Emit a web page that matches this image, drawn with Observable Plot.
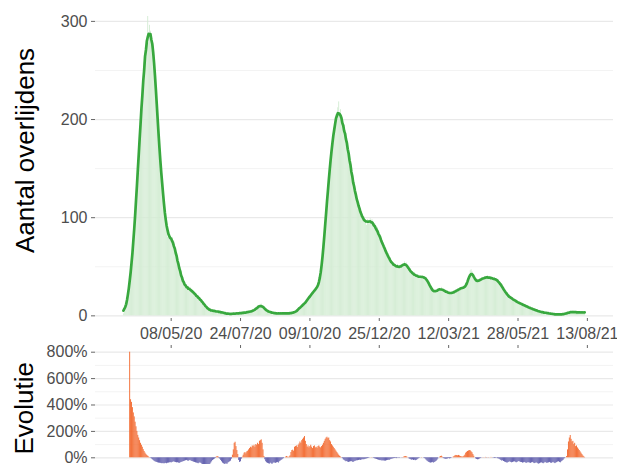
<!DOCTYPE html>
<html>
<head>
<meta charset="utf-8">
<script src="https://cdn.jsdelivr.net/npm/d3@7"></script>
<script src="https://cdn.jsdelivr.net/npm/@observablehq/plot@0.6"></script>
<style>
  html, body { margin: 0; padding: 0; background: #ffffff; overflow: hidden; width: 617px; height: 464px; }
  svg { display: block; }
</style>
</head>
<body>
<div id="chart"></div>
<script>
// ---- Daily deaths (Aantal overlijdens) ----
const deathsStart = "2020-03-16";
const d2003 = [2, 4, 5, 10, 14, 19, 28, 33, 44, 50, 64, 71, 87, 98, 120, 131];
const d2004 = [145, 172, 176, 201, 205, 232, 236, 258, 262, 281, 276, 305, 278, 296, 290, 285, 280, 275, 265, 250, 235, 215, 195, 180, 170, 158, 145, 135, 122, 112];
const d2005 = [104, 95, 88, 80, 84, 78, 82, 76, 80, 74, 76, 68, 65, 58, 60, 49, 52, 41, 45, 35, 37, 30, 34, 28, 31, 27, 30, 25, 29, 24, 27];
const d2006 = [25, 22, 24, 20, 22, 18, 20, 17, 18, 15, 16, 12, 14, 10, 11, 8, 9, 6, 7, 5, 6, 5, 6, 4, 5, 6, 4, 5, 3, 4];
const d2007 = [4, 5, 3, 4, 2, 3, 3, 2, 3, 2, 1, 2, 3, 2, 1, 2, 3, 2, 3, 2, 3, 2, 3, 2, 3, 4, 2, 3, 4, 3, 4];
const d2008 = [4, 3, 5, 4, 5, 4, 6, 5, 6, 8, 7, 9, 10, 9, 11, 12, 10, 9, 8, 7, 6, 5, 5, 4, 4, 4, 3, 4, 3, 3, 2];
const d2009 = [3, 2, 3, 2, 3, 2, 3, 2, 3, 2, 3, 3, 2, 3, 2, 3, 2, 3, 3, 3, 4, 3, 4, 5, 5, 6, 7, 9, 10, 11];
const d2010 = [10, 11, 12, 14, 15, 16, 17, 19, 20, 21, 23, 22, 25, 26, 27, 28, 29, 30, 32, 34, 40, 48, 58, 68, 82, 92, 106, 116, 130, 138, 152];
const d2011 = [158, 170, 178, 186, 192, 196, 205, 200, 212, 218, 204, 210, 195, 200, 190, 194, 182, 186, 172, 176, 160, 164, 148, 152, 138, 140, 126, 130, 118, 122];
const d2012 = [116, 112, 108, 105, 104, 99, 98, 101, 94, 97, 92, 98, 94, 97, 99, 95, 98, 93, 91, 94, 88, 86, 90, 84, 81, 80, 76, 77, 72, 70, 68];
const d2101 = [66, 65, 62, 60, 58, 57, 54, 55, 52, 50, 53, 51, 49, 52, 50, 48, 51, 49, 50, 52, 53, 55, 52, 54, 51, 49, 47, 46, 45, 44, 43];
const d2102 = [42, 44, 40, 41, 39, 42, 38, 41, 40, 38, 41, 39, 40, 38, 39, 37, 35, 33, 31, 29, 27, 25, 26, 23, 24, 25, 26, 27];
const d2103 = [26, 28, 27, 29, 26, 25, 27, 24, 26, 23, 25, 22, 24, 23, 22, 24, 23, 25, 24, 26, 25, 27, 26, 28, 27, 29, 28, 30, 29, 28, 30];
const d2104 = [30, 33, 37, 42, 46, 47, 45, 42, 39, 36, 35, 34, 36, 35, 36, 37, 38, 36, 39, 38, 40, 38, 39, 41, 38, 40, 39, 37, 38, 39];
const d2105 = [37, 39, 36, 38, 35, 37, 34, 33, 31, 30, 29, 28, 26, 24, 22, 21, 20, 21, 19, 18, 17, 18, 16, 17, 15, 14, 15, 13, 14, 12, 13];
const d2106 = [12, 11, 12, 10, 11, 9, 10, 9, 8, 9, 7, 8, 7, 6, 7, 6, 5, 6, 5, 4, 5, 4, 4, 3, 4, 3, 4, 3, 2, 3];
const d2107 = [3, 2, 3, 2, 2, 1, 2, 2, 1, 2, 1, 2, 1, 2, 1, 2, 2, 1, 2, 3, 2, 3, 4, 3, 4, 3, 4, 5, 4, 3, 4];
const d2108 = [4, 3, 4, 3, 4, 3, 4, 3, 4, 3];

// ---- Daily evolution in % (Evolutie) ----
const evolStart = "2020-03-23";
const e2003 = [800, 440, 420, 380, 340, 310, 270, 235, 200];
const e2004 = [170, 150, 130, 110, 95, 80, 62, 48, 36, 26, 18, 12, 6, 2, -3, -8, -14, -20, -26, -30, -33, -35, -38, -40, -41, -42, -44, -45, -43, -46];
const e2005 = [-44, -42, -45, -41, -40, -38, -36, -39, -35, -33, -30, -34, -36, -38, -37, -40, -42, -38, -35, -33, -30, -28, -25, -22, -20, -24, -26, -22, -20, -25, -28];
const e2006 = [-30, -33, -35, -38, -40, -42, -45, -40, -38, -42, -48, -52, -55, -58, -56, -60, -62, -58, -55, -50, -40, -30, -20, -15, -10, -5, 5, 10, 8, -5];
const e2007 = [-10, -20, -30, -40, -45, -50, -48, -45, -50, -40, -35, -30, -25, -10, 20, 60, 110, 118, 85, 55, 25, -20, -35, -30, -10, 5, 20, 35, 40, 30, 45];
const e2008 = [50, 60, 70, 80, 75, 90, 85, 95, 80, 100, 95, 110, 100, 125, 130, 136, 110, 60, 10, -15, -30, -38, -42, -45, -48, -40, -45, -50, -42, -38, -40];
const e2009 = [-42, -38, -35, -40, -30, -25, -20, -15, -10, -5, 0, 5, 10, 6, 2, 8, 15, 40, 55, 58, 50, 80, 85, 90, 78, 95, 105, 120, 110, 130];
const e2010 = [140, 150, 161, 125, 100, 80, 90, 75, 85, 95, 80, 70, 85, 90, 75, 80, 72, 85, 90, 80, 75, 85, 95, 110, 125, 140, 150, 156, 145, 150, 130];
const e2011 = [120, 100, 90, 80, 70, 60, 50, 40, 30, 20, 12, 6, 2, -5, -15, -20, -25, -30, -28, -33, -35, -32, -30, -28, -33, -35, -30, -27, -25, -22];
const e2012 = [-22, -20, -18, -20, -17, -15, -14, -15, -12, -10, -8, -6, -4, -2, 0, 2, 1, -2, -5, -8, -10, -12, -15, -18, -20, -22, -20, -25, -22, -24, -25];
const e2101 = [-25, -22, -20, -18, -20, -15, -12, -10, -8, -6, -5, -4, -6, -3, -2, -4, -2, 0, -2, 2, 5, 8, 10, 8, 4, 0, -8, -12, -15, -18, -16];
const e2102 = [-20, -18, -22, -20, -15, -10, -5, -2, 0, 2, 0, -2, -5, -10, -18, -25, -30, -35, -38, -40, -38, -35, -40, -36, -32, -28, -20, -10];
const e2103 = [0, 5, 10, 12, 5, -5, -8, -10, -12, -10, -8, -5, -8, -6, -3, 0, 5, 10, 15, 18, 17, 15, 18, 14, 10, 8, 5, 8, 12, 20, 35];
const e2104 = [42, 48, 52, 55, 53, 45, 38, 25, 12, 0, -8, -12, -15, -14, -10, -6, -3, 0, 2, -1, 1, 3, -2, 1, 2, -1, 0, 3, 1, -2];
const e2105 = [-3, -5, -4, -2, -6, -8, -10, -15, -20, -25, -22, -28, -32, -35, -38, -40, -36, -33, -30, -35, -38, -35, -32, -30, -34, -38, -35, -30, -28, -32, -35];
const e2106 = [-36, -40, -38, -35, -38, -42, -40, -36, -38, -40, -42, -38, -35, -40, -44, -42, -38, -40, -45, -48, -44, -40, -38, -42, -45, -40, -35, -38, -42, -40];
const e2107 = [-38, -35, -40, -42, -38, -35, -40, -44, -40, -36, -32, -30, -35, -38, -30, -25, -20, -10, -5, 0, 10, 60, 120, 150, 169, 140, 120, 125, 100, 110, 85];
const e2108 = [90, 75, 65, 55, 45, 35, 25, 15, 8, 3];

// ---- Axis ticks and labels ----
const xTickDates = ["2020-05-08", "2020-07-24", "2020-10-09", "2020-12-25", "2021-03-12", "2021-05-28", "2021-08-13"];
const xDomain = ["2020-02-14", "2021-09-11"];
const deathTicks = [0, 100, 200, 300];
const deathMinor = [50, 150, 250];
const evolTicks = [0, 200, 400, 600, 800];
const evolMinor = [100, 300, 500, 700];
const yTitleTop = "Aantal overlijdens";
const yTitleBottom = "Evolutie";

// ---- build daily tables ----
function daily(startStr, months) {
  const start = new Date(startStr + "T00:00:00Z");
  return months.flat().map((v, i) => {
    const date = d3.utcDay.offset(start, i);
    return {date, end: d3.utcDay.offset(date, 1), value: v};
  });
}
const deaths = daily(deathsStart, [d2003, d2004, d2005, d2006, d2007, d2008, d2009, d2010, d2011, d2012,
  d2101, d2102, d2103, d2104, d2105, d2106, d2107, d2108]);
const evol = daily(evolStart, [e2003, e2004, e2005, e2006, e2007, e2008, e2009, e2010, e2011, e2012,
  e2101, e2102, e2103, e2104, e2105, e2106, e2107, e2108]);

const toDate = s => new Date(s + "T00:00:00Z");
const xTicks = xTickDates.map(toDate);
const xDom = xDomain.map(toDate);
const fmt = d3.utcFormat("%d/%m/%y");

const FONT = "'Liberation Sans', Arial, Helvetica, sans-serif";
const GRID_MAJOR = "#e9e9e9";
const GRID_MINOR = "#f3f3f3";
const BAR_GREEN = "#d3ecd3";
const LINE_GREEN = "#38a83e";
const ORANGE = "#f2672c";
const BLUE = "#5b59ab";

const topPlot = Plot.plot({
  width: 617,
  height: 340,
  marginLeft: 95,
  marginRight: 4,
  marginTop: 4,
  marginBottom: 22,
  style: {fontFamily: FONT, fontSize: "16px", color: "#4d4d4d", background: "#ffffff", overflow: "visible"},
  x: {type: "utc", domain: xDom},
  y: {domain: [-2.7, 317.2]},
  marks: [
    Plot.ruleY(deathMinor, {stroke: GRID_MINOR, strokeWidth: 1}),
    Plot.ruleY(deathTicks, {stroke: GRID_MAJOR, strokeWidth: 1.2}),
    Plot.rectY(deaths, {x1: "date", x2: "end", y: "value", fill: BAR_GREEN}),
    Plot.lineY(deaths, Plot.windowY({k: 7}, {x: "date", y: "value", stroke: LINE_GREEN, strokeWidth: 2.7})),
    Plot.axisY(deathTicks, {tickSize: 4, tickPadding: 4, fontSize: 16, label: null, stroke: "#666"}),
    Plot.axisX(xTicks, {tickSize: 3, tickPadding: 6, tickFormat: fmt, fontSize: 16, label: null, stroke: "#666"}),
    Plot.text([yTitleTop], {frameAnchor: "left", textAnchor: "middle", dx: -70, dy: -11, rotate: -90, fontSize: 26, fill: "#000000", fontFamily: FONT})
  ]
});

const bottomPlot = Plot.plot({
  width: 617,
  height: 150,
  marginLeft: 95,
  marginRight: 4,
  marginTop: 7,
  marginBottom: 19.5,
  style: {fontFamily: FONT, fontSize: "16px", color: "#4d4d4d", background: "#ffffff", overflow: "visible"},
  x: {type: "utc", domain: xDom},
  y: {domain: [-100, 835.6]},
  marks: [
    Plot.ruleY(evolMinor, {stroke: GRID_MINOR, strokeWidth: 1}),
    Plot.ruleY(evolTicks, {stroke: GRID_MAJOR, strokeWidth: 1.2}),
    Plot.rectY(evol.filter(d => d.value >= 0), {x1: "date", x2: "end", y: "value", fill: ORANGE}),
    Plot.rectY(evol.filter(d => d.value < 0), {x1: "date", x2: "end", y: "value", fill: BLUE}),
    Plot.axisY(evolTicks, {tickSize: 4, tickPadding: 4, fontSize: 16, label: null, stroke: "#666", tickFormat: d => d + "%"}),
    Plot.axisX(xTicks, {anchor: "top", tickSize: 3, tickFormat: () => "", label: null, stroke: "#666"}),
    Plot.text([yTitleBottom], {frameAnchor: "left", textAnchor: "middle", dx: -71, dy: -1, rotate: -90, fontSize: 26, fill: "#000000", fontFamily: FONT})
  ]
});

const chart = document.getElementById("chart");
chart.appendChild(topPlot);
chart.appendChild(bottomPlot);
</script>
</body>
</html>
